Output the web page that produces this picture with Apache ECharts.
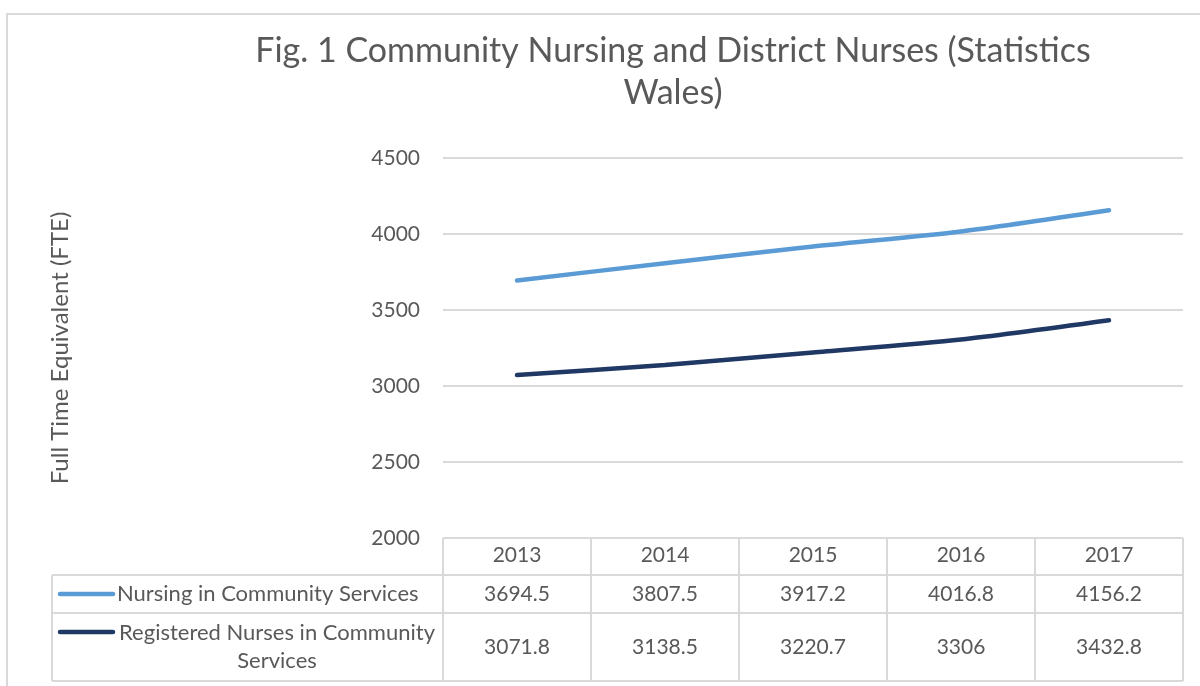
<!DOCTYPE html>
<html>
<head>
<meta charset="utf-8">
<script src="https://cdn.jsdelivr.net/npm/echarts@6/dist/echarts.min.js"></script>
<style>
  html, body { margin: 0; padding: 0; background: #fff; }
  #chart { width: 1200px; height: 686px; }
</style>
</head>
<body>
<div id="chart"></div>
<script>
// data (Statistics Wales)
const years = ['2013', '2014', '2015', '2016', '2017'];
const nursingCommunity = [3694.5, 3807.5, 3917.2, 4016.8, 4156.2];
const registeredNurses = [3071.8, 3138.5, 3220.7, 3306, 3432.8];
const seriesNames = ['Nursing in Community Services', 'Registered Nurses in Community Services'];

const FONT = 'Lato';
const TXT = '#595959';
const LINE_GREY = '#D9D9D9';
const colors = ['#5B9BD5', '#203864'];
const FS = 21;

const chart = echarts.init(document.getElementById('chart'));

chart.setOption({
  animation: false,
  textStyle: { fontFamily: FONT },
  title: {
    text: 'Fig. 1 Community Nursing and District Nurses (Statistics\nWales)',
    left: 668,
    top: 25,
    textAlign: 'center',
    textStyle: { fontFamily: FONT, fontSize: 34, fontWeight: 'normal', color: TXT, lineHeight: 42 }
  },
  grid: { left: 443, right: 17, top: 158, bottom: 148 },
  xAxis: {
    type: 'category',
    data: years,
    boundaryGap: true,
    axisLine: { show: false },
    axisTick: { show: false },
    axisLabel: { color: TXT, fontSize: FS, margin: 7, fontFamily: FONT }
  },
  yAxis: {
    type: 'value',
    min: 2000,
    max: 4500,
    interval: 500,
    name: 'Full Time Equivalent (FTE)',
    nameLocation: 'middle',
    nameRotate: 90,
    nameGap: 371,
    nameTextStyle: { color: TXT, fontSize: 24, fontFamily: FONT },
    axisLine: { show: false },
    axisTick: { show: false },
    axisLabel: { color: TXT, fontSize: FS, margin: 23, fontFamily: FONT, formatter: v => String(v) },
    splitLine: { lineStyle: { color: LINE_GREY, width: 2 } }
  },
  series: [
    {
      name: seriesNames[0],
      type: 'line',
      data: nursingCommunity,
      smooth: 0.25,
      symbol: 'none',
      lineStyle: { color: colors[0], width: 4.5, cap: 'round' }
    },
    {
      name: seriesNames[1],
      type: 'line',
      data: registeredNurses,
      smooth: 0.25,
      symbol: 'none',
      lineStyle: { color: colors[1], width: 4.5, cap: 'round' }
    }
  ]
});

// data table under the plot, laid out from the axis scales
const x0 = chart.convertToPixel({ xAxisIndex: 0 }, years[0]);
const x1 = chart.convertToPixel({ xAxisIndex: 0 }, years[1]);
const band = x1 - x0;
const tableTop = chart.convertToPixel({ yAxisIndex: 0 }, 2000);
const rowH = [37, 38, 68];
const rowY = [tableTop, tableTop + rowH[0], tableTop + rowH[0] + rowH[1], tableTop + rowH[0] + rowH[1] + rowH[2]];
const colLeft = x0 - band / 2;
const colRight = chart.convertToPixel({ xAxisIndex: 0 }, years[years.length - 1]) + band / 2;
const legendLeft = 52;

const lineStyle = { stroke: LINE_GREY, lineWidth: 2 };
const g = [];

// outer chart border
g.push({ type: 'rect', shape: { x: 7, y: 14, width: 1220, height: 720 }, style: { fill: 'none', stroke: LINE_GREY, lineWidth: 2 }, silent: true });

// horizontal rules
g.push({ type: 'line', shape: { x1: colLeft, y1: rowY[0], x2: colRight, y2: rowY[0] }, style: lineStyle });
for (let r = 1; r < rowY.length; r++) {
  g.push({ type: 'line', shape: { x1: legendLeft, y1: rowY[r], x2: colRight, y2: rowY[r] }, style: lineStyle });
}
// vertical rules
g.push({ type: 'line', shape: { x1: legendLeft, y1: rowY[1], x2: legendLeft, y2: rowY[3] }, style: lineStyle });
for (let i = 0; i <= years.length; i++) {
  const x = colLeft + band * i;
  g.push({ type: 'line', shape: { x1: x, y1: rowY[0], x2: x, y2: rowY[3] }, style: lineStyle });
}

// legend keys + values
const rows = [nursingCommunity, registeredNurses];
rows.forEach((vals, r) => {
  const yc = (rowY[r + 1] + rowY[r + 2]) / 2;
  const keyY = r === 0 ? yc : rowY[r + 1] + 19;
  g.push({ type: 'line', shape: { x1: 60, y1: keyY, x2: 113, y2: keyY }, style: { stroke: colors[r], lineWidth: 4.5, lineCap: 'round' } });
  vals.forEach((v, i) => {
    g.push({
      type: 'text', x: x0 + band * i, y: yc,
      style: { text: String(v), fill: TXT, font: FS + 'px ' + FONT, textAlign: 'center', textVerticalAlign: 'middle' }
    });
  });
});
g.push({
  type: 'text', x: 117, y: (rowY[1] + rowY[2]) / 2,
  style: { text: seriesNames[0], fill: TXT, font: '22px ' + FONT, textAlign: 'left', textVerticalAlign: 'middle' }
});
g.push({
  type: 'text', x: 277, y: (rowY[2] + rowY[3]) / 2,
  style: { text: 'Registered Nurses in Community\nServices', fill: TXT, font: '22px ' + FONT, lineHeight: 28, textAlign: 'center', textVerticalAlign: 'middle' }
});

chart.setOption({ graphic: g });
</script>
</body>
</html>
